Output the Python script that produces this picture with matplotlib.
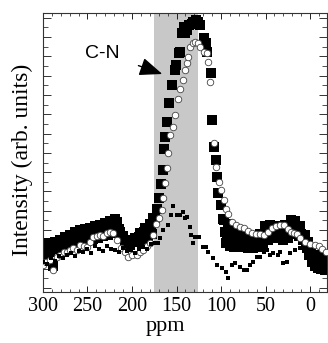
import matplotlib
matplotlib.use("Agg")
import matplotlib.pyplot as plt
from matplotlib.ticker import MultipleLocator, NullFormatter

# ---- data (ppm, intensity in arbitrary units) ----
sq_ppm = [300, 298, 295, 292, 289, 287, 283, 281, 278, 275, 272, 270, 266, 264, 261, 258,
          255, 253, 250, 247, 244, 242, 238, 236, 233, 230, 227, 225, 221, 219, 217, 213,
          210, 208, 205, 202, 199, 197, 193, 191, 188, 185, 182, 180, 177, 176,
          299, 296, 293, 290, 286, 282, 279, 276, 273, 268, 265, 262, 260, 256, 252, 248,
          245, 240, 237, 234, 231, 228, 223, 220, 215, 211, 207, 203, 200, 195, 192, 189,
          186, 183, 179,
          174, 172, 169.7, 167.5, 165.2, 164.1, 163, 160.7, 158.5, 155, 151.7, 150.6, 147,
          146, 144, 141.6, 140.5, 138, 136, 133, 131.5, 128, 126, 123.6, 119, 117, 115.8,
          111, 110, 108, 105.7, 104.5, 103.4, 100, 97.8,
          97, 94, 92, 90, 88, 85, 83, 81, 79, 75, 73, 70, 67, 64, 62, 58, 56, 53, 51, 47,
          45, 42, 39, 36, 34, 30, 28, 25, 22, 19, 17, 13, 11, 8, 6, 4, 2, 1, -1, -2, -4,
          -6, -7, -9, -11, -13, -16, -17, -18,
          96, 93, 91, 89, 86, 84, 82, 80, 77, 74, 71, 69, 66, 63, 60, 57, 54, 52, 49, 46,
          43, 40, 37, 35, 32, 29, 26, 23, 21, 18, 15, 12, 10, 7, 5, 3, 0, -3, -5, -8, -10,
          -12, -14, -15]
sq_int = [46, 37, 49, 40, 26, 50, 43, 52, 44, 55, 46, 57, 48, 60, 49, 62,
          51, 63, 51, 64, 53, 66, 54, 67, 56, 69, 57, 71, 59, 73, 70, 60,
          56, 48, 52, 47, 51, 54, 50, 59, 52, 64, 54, 68, 58, 74,
          42, 44, 45, 46, 47, 48, 50, 50, 52, 53, 55, 56, 56, 57, 58, 59,
          60, 61, 62, 63, 63, 65, 66, 67, 63, 55, 50, 50, 50, 52, 55, 56,
          60, 62, 64,
          74, 83, 94, 108, 122, 143, 155, 170, 189, 207, 222, 227, 239,
          240, 259, 265, 259, 262, 267, 268, 270, 272, 270, 267, 254, 249, 240,
          219, 172, 145, 132, 115, 99, 87, 73,
          72, 49, 68, 46, 65, 45, 62, 46, 58, 45, 56, 44, 56, 44, 56, 45, 58, 47, 66, 52,
          67, 54, 66, 54, 62, 52, 67, 54, 72, 58, 71, 56, 66, 52, 57, 44, 50, 37, 42, 30, 37,
          26, 34, 24, 36, 24, 36, 22, 34,
          60, 58, 57, 56, 55, 54, 53, 52, 51, 50, 50, 50, 50, 50, 50, 52, 54, 58, 60, 60,
          60, 60, 60, 58, 58, 60, 62, 64, 66, 64, 64, 60, 58, 54, 48, 44, 38, 33, 30, 30, 30,
          30, 30, 30]

ci_ppm = [300, 296.7, 292, 289, 284, 281, 276.5, 273, 270, 266, 262, 258.5, 254, 250.7,
          247, 244, 239.4, 236, 232.7, 228, 225, 221.4, 217, 212.4, 208, 204.6, 200, 194.5,
          191, 187.7, 183, 180, 176.5, 173, 169.7, 166.4, 165.2, 163, 160.7, 159.6, 157.4,
          154, 151.7, 148.4, 146, 142.7, 140.5, 138, 137, 135, 131.5, 129, 126, 123.6, 119,
          115.8, 114.6, 112.4, 108, 105.7, 102.3, 100, 96.7, 94.4, 92.2, 87.7, 83.2, 78.7,
          74.2, 69.7, 65.2, 60.7, 56.2, 51.7, 47.2, 42.7, 38.2, 33.7, 29.2, 24.7, 21.4, 18,
          14.6, 11.2, 5.6, 0, -5.6, -10, -13.5, -18]
ci_int = [27, 30, 32, 22, 35, 37, 40, 40, 42, 44, 42, 47, 46, 45,
          50, 55, 56, 57, 56, 59, 60, 59, 52, 44, 40, 35, 37, 37,
          40, 42, 46, 49, 57, 68, 74, 82, 94, 109, 124, 139, 157,
          165, 177, 193, 203, 212, 222, 229, 235, 245, 249, 250, 249, 245, 240,
          239, 230, 210, 149, 125, 110, 102, 92, 83, 78, 70, 67, 65,
          64, 61, 59, 58, 58, 57, 60, 64, 66, 67, 67, 63, 60, 59,
          58, 54, 50, 48, 47, 46, 43, 40]

sm_ppm = [300, 295.6, 291, 286.6, 282, 277.6, 273, 268.7, 264, 260, 255, 250.7, 246, 241.7,
          237, 232.7, 228, 223.7, 219, 214.7, 210, 205.7, 201, 196.7, 192, 187.7, 183, 178.7,
          174, 171, 168.6, 165.2, 159.6, 156.2, 154, 149.5, 146, 142.7, 140.5, 138, 135,
          133.8, 131.5, 129, 124.8, 120, 117, 114.6, 109, 104.5, 99, 94.4, 92.2, 87.7, 84.3,
          78.7, 74.2, 70.8, 67.4, 64, 59.6, 56.2, 51.7, 48.3, 45, 41.6, 36, 33.7, 30.3, 25.9,
          22.5, 16.9, 11.2, 6.7, 3.4, 0, -3.4, -6.7, -9, -13.5, -17]
sm_int = [30, 28, 34, 31, 36, 34, 37, 39, 36, 41, 40, 43, 39, 46,
          43, 41, 46, 43, 42, 40, 44, 41, 42, 39, 43, 45, 43, 48,
          49, 49, 54, 62, 67, 77, 86, 77, 77, 80, 74, 75, 65,
          57, 49, 55, 55, 45, 45, 40, 34, 27, 24, 20, 14, 27, 29,
          25, 22, 22, 27, 30, 35, 35, 40, 42, 37, 39, 37, 40, 29, 30,
          39, 42, 44, 42, 39, 32, 26, 25, 20, 24, 20]

band_ppm = [175.5, 126]          # shaded C-N region
x_major = [300, 250, 200, 150, 100, 50, 0]
x_tick_labels = ["300", "250", "200", "150", "100", "50", "0"]
annot_text = "C-N"
annot_tip = (166, 218)
annot_text_pos = (233, 239)

# ---- figure ----
fig = plt.figure(figsize=(3.28, 3.43), dpi=100)
ax = fig.add_axes([0.131, 0.149, 0.866, 0.813])

ax.axvspan(band_ppm[0], band_ppm[1], color="#c8c8c8", lw=0, zorder=0)

ax.scatter(sq_ppm, sq_int, marker="s", s=42, c="black", lw=0, zorder=2)
ax.scatter(ci_ppm, ci_int, marker="o", s=22, facecolors="white",
           edgecolors="#444444", linewidths=0.6, zorder=3)
ax.scatter(sm_ppm, sm_int, marker="s", s=12, c="black", lw=0, zorder=4)

ax.annotate(annot_text, xy=annot_tip, xytext=annot_text_pos,
            fontsize=14, family="Liberation Sans", ha="center", va="center",
            arrowprops=dict(arrowstyle="-|>,head_length=1.0,head_width=0.4",
                            color="black", lw=1.0, shrinkA=12, shrinkB=0))

ax.set_xlim(300, -19)
ax.set_ylim(0, 279)

ax.set_xticks(x_major)
ax.set_xticklabels(x_tick_labels)
ax.xaxis.set_minor_locator(MultipleLocator(10))
ax.yaxis.set_major_locator(MultipleLocator(19.3, offset=4))
ax.yaxis.set_minor_locator(MultipleLocator(9.65, offset=4))
ax.yaxis.set_major_formatter(NullFormatter())

ax.tick_params(axis="x", which="major", direction="in", length=4.5, width=0.7,
               top=True, labelsize=14.5, pad=4, colors="#222222")
ax.tick_params(axis="x", which="minor", direction="in", length=2.5, width=0.6,
               top=True, colors="#333333")
ax.tick_params(axis="y", which="major", direction="in", length=6, width=0.7,
               right=True, colors="#333333")
ax.tick_params(axis="y", which="minor", direction="in", length=3.5, width=0.6,
               right=True, colors="#333333")
for lab in ax.get_xticklabels():
    lab.set_family("Liberation Serif")
    lab.set_color("black")
for sp in ax.spines.values():
    sp.set_linewidth(0.8)
    sp.set_color("#333333")

ax.set_xlabel("ppm", family="Liberation Serif", fontsize=16, labelpad=0)
ax.set_ylabel("Intensity (arb. units)", family="Liberation Serif", fontsize=17)
ax.xaxis.set_label_coords(0.43, -0.09)
ax.yaxis.set_label_coords(-0.035, 0.473)

fig.savefig("out.png", dpi=100)
